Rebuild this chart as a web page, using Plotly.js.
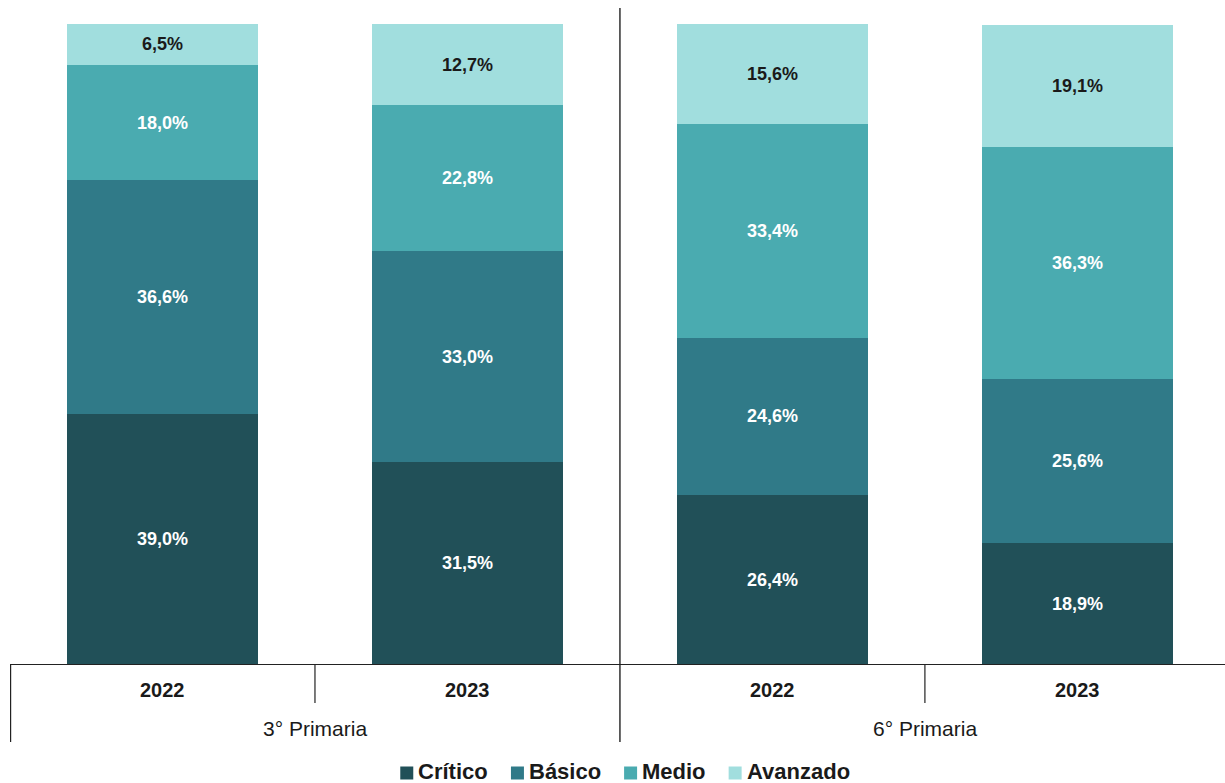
<!DOCTYPE html>
<html>
<head>
<meta charset="utf-8">
<script src="https://cdn.plot.ly/plotly-3.0.1.min.js"></script>
<style>html,body{margin:0;padding:0;background:#fff;}#chart{width:1225px;height:783px;}</style>
</head>
<body>
<div id="chart"></div>
<script>
// Data
const groups = ['3° Primaria', '6° Primaria'];
const years = ['2022', '2023'];
const seriesNames = ['Crítico', 'Básico', 'Medio', 'Avanzado'];
const critico  = [39.0, 31.5, 26.4, 18.9];
const basico   = [36.6, 33.0, 24.6, 25.6];
const medio    = [18.0, 22.8, 33.4, 36.3];
const avanzado = [6.5, 12.7, 15.6, 19.1];

const values = [critico, basico, medio, avanzado];
const colors = ['#215058', '#307A88', '#4AABB0', '#A1DEDE'];
const textColors = ['#ffffff', '#ffffff', '#ffffff', '#1a1a1a'];

// positions for each bar: group x year
const xPos = [];
const yearLabels = [];
groups.forEach((g, gi) => years.forEach((y, yi) => { xPos.push(gi * years.length + yi); yearLabels.push(y); }));

const FONT = 'Liberation Sans, Arial, sans-serif';

const traces = values.map((vals, i) => ({
  type: 'bar',
  name: seriesNames[i],
  x: xPos,
  y: vals,
  width: 0.626,
  marker: { color: colors[i], line: { width: 0 } },
  texttemplate: '<b>%{y:.1f}%</b>',
  textposition: 'inside',
  insidetextanchor: 'middle',
  textangle: 0,
  constraintext: 'none',
  textfont: { family: FONT, size: 18, color: textColors[i] },
  hoverinfo: 'skip',
  showlegend: false
}));

const W = 1225, H = 783;
const PLOT_LEFT = 10, PLOT_RIGHT = 1225, PLOT_TOP = 24, PLOT_BOTTOM = 664, PH = PLOT_BOTTOM - PLOT_TOP, PW = PLOT_RIGHT - PLOT_LEFT;
const py = (pix) => (PLOT_BOTTOM - pix) / PH;
const px = (pix) => (pix - PLOT_LEFT) / PW;

const shapes = [];
// outer left divider
shapes.push({ type: 'line', xref: 'paper', yref: 'paper', x0: px(10.6), x1: px(10.6), y0: 0, y1: py(742), line: { color: '#222', width: 1.2 } });
// year dividers within groups and group divider
groups.forEach((g, gi) => {
  for (let yi = 1; yi < years.length; yi++) {
    const xv = gi * years.length + yi - 0.5;
    shapes.push({ type: 'line', xref: 'x', yref: 'paper', x0: xv, x1: xv, y0: 0, y1: py(703), line: { color: '#222', width: 1.2 } });
  }
  if (gi > 0) {
    const xv = gi * years.length - 0.5;
    shapes.push({ type: 'line', xref: 'x', yref: 'paper', x0: xv, x1: xv, y0: py(742), y1: py(8), line: { color: '#222', width: 1.4 } });
  }
});

const annotations = [];
xPos.forEach((xv, i) => annotations.push({
  x: xv, xref: 'x', y: py(690), yref: 'paper', text: '<b>' + yearLabels[i] + '</b>',
  showarrow: false, font: { family: FONT, size: 20, color: '#1a1a1a' }, xanchor: 'center', yanchor: 'middle'
}));
groups.forEach((g, gi) => annotations.push({
  x: gi * years.length + (years.length - 1) / 2, xref: 'x', y: py(728), yref: 'paper', text: g,
  showarrow: false, font: { family: FONT, size: 21, color: '#1a1a1a' }, xanchor: 'center', yanchor: 'middle'
}));

// Custom legend (squares + labels), laid out by measured text width
const LEG_FONT = 22, SQ = 13, SQ_GAP = 3, ITEM_GAP = 25, LEG_CY = 771, LEG_CX = 624;
const ctx = document.createElement('canvas').getContext('2d');
ctx.font = 'bold ' + LEG_FONT + 'px "Liberation Sans", Arial, sans-serif';
const tw = seriesNames.map(n => ctx.measureText(n).width);
const total = tw.reduce((a, b) => a + b, 0) + seriesNames.length * (SQ + SQ_GAP) + (seriesNames.length - 1) * ITEM_GAP;
let cur = LEG_CX - total / 2;
seriesNames.forEach((n, i) => {
  shapes.push({ type: 'rect', xref: 'paper', yref: 'paper', x0: px(cur), x1: px(cur + SQ), y0: py(LEG_CY + 2 + SQ / 2), y1: py(LEG_CY + 2 - SQ / 2),
    fillcolor: colors[i], line: { width: 0 } });
  annotations.push({ x: px(cur + SQ + SQ_GAP), xref: 'paper', y: py(LEG_CY), yref: 'paper', text: '<b>' + n + '</b>',
    showarrow: false, xanchor: 'left', yanchor: 'middle', font: { family: FONT, size: LEG_FONT, color: '#1a1a1a' } });
  cur += SQ + SQ_GAP + tw[i] + ITEM_GAP;
});

const layout = {
  width: W, height: H,
  margin: { l: PLOT_LEFT, r: W - PLOT_RIGHT, t: PLOT_TOP, b: H - PLOT_BOTTOM, pad: 0, autoexpand: false },
  barmode: 'stack',
  separators: ',.',
  paper_bgcolor: '#ffffff', plot_bgcolor: '#ffffff',
  xaxis: { range: [-0.5, 3.484], showticklabels: false, ticks: '', showgrid: false, zeroline: false,
           showline: true, linecolor: '#222', linewidth: 1.2, fixedrange: true },
  yaxis: { range: [0, 100], visible: false, showgrid: false, zeroline: false, fixedrange: true },
  showlegend: false,
  shapes: shapes,
  annotations: annotations
};

Plotly.newPlot('chart', traces, layout, { displayModeBar: false, staticPlot: true });
</script>
</body>
</html>
